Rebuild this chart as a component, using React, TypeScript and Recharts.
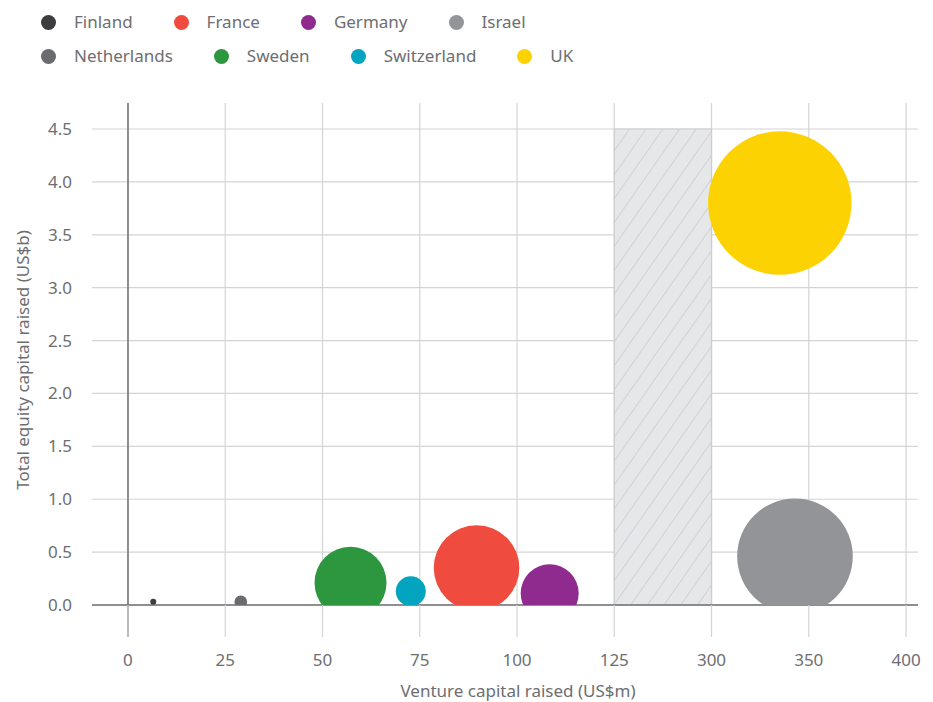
import React from 'react';
import {
  ScatterChart,
  Scatter,
  XAxis,
  YAxis,
  ZAxis,
  CartesianGrid,
  ReferenceArea,
  ReferenceLine,
  Cell,
  Label,
} from 'recharts';

const countries = ['Finland', 'France', 'Germany', 'Israel', 'Netherlands', 'Sweden', 'Switzerland', 'UK'];
// Venture capital raised, US$m
const ventureCapital = [6.5, 89.6, 108.4, 342.9, 29.0, 57.2, 72.7, 335.1];
// Total equity capital raised, US$b
const equityCapital = [0.03, 0.35, 0.11, 0.46, 0.03, 0.21, 0.13, 3.8];
// relative bubble size (area)
const bubbleSize = [9, 1832, 841, 3341, 40, 1296, 225, 5141];
const colors = ['#3d3d3f', '#f04b3f', '#8f2a8f', '#939497', '#6b6c70', '#2d973f', '#02a4c0', '#fdd203'];

const xTickLabels = [0, 25, 50, 75, 100, 125, 300, 350, 400];
const yTicks = [0, 0.5, 1, 1.5, 2, 2.5, 3, 3.5, 4, 4.5];
const breakStart = 125;
const breakEnd = 300;

const X_TITLE = 'Venture capital raised (US$m)';
const Y_TITLE = 'Total equity capital raised (US$b)';

const FONT = "'Noto Sans', sans-serif";
const TEXT = '#6d6e71';
const GRID = '#d4d4d4';
const AXIS = '#717174';

// broken axis: 0-125 in steps of 25, then 300-400 in steps of 50, one slot each
const toSlot = (v: number) => (v <= breakStart ? v / 25 : 6 + (v - breakEnd) / 50);
const xSlots = xTickLabels.map((_, i) => i);

const data = countries.map((name, i) => ({
  name,
  x: toSlot(ventureCapital[i]),
  y: equityCapital[i],
  z: bubbleSize[i],
}));

const YTitle = (props: any) => {
  const vb = props.viewBox || { y: 103, height: 502 };
  const cx = 22;
  const cy = vb.y + vb.height / 2 + 6;
  return (
    <text
      x={cx}
      y={cy}
      transform={`rotate(-90, ${cx}, ${cy})`}
      textAnchor="middle"
      dominantBaseline="central"
      fill={TEXT}
      fontSize={17}
      fontFamily={FONT}
    >
      {Y_TITLE}
    </text>
  );
};

const XTitle = () => (
  <text x={518} y={690} textAnchor="middle" dominantBaseline="central" fill={TEXT} fontSize={17} fontFamily={FONT}>
    {X_TITLE}
  </text>
);

const legendRows = [countries.slice(0, 4), countries.slice(4)];

const Legend = () => (
  <div style={{ position: 'absolute', left: 41, top: 0, fontFamily: FONT, fontSize: 17, color: TEXT }}>
    {legendRows.map((row, r) => (
      <div
        key={r}
        style={{ position: 'absolute', top: r === 0 ? 12 : 46, left: 0, display: 'flex', alignItems: 'center', height: 20, whiteSpace: 'nowrap' }}
      >
        {row.map((name) => (
          <div key={name} style={{ display: 'flex', alignItems: 'center', marginRight: 41 }}>
            <span
              style={{
                display: 'inline-block',
                width: 15,
                height: 15,
                borderRadius: '50%',
                background: colors[countries.indexOf(name)],
                marginRight: 18,
              }}
            />
            <span style={{ lineHeight: '20px' }}>{name}</span>
          </div>
        ))}
      </div>
    ))}
  </div>
);

export default function App() {
  return (
    <div style={{ position: 'relative', width: 933, height: 702, background: '#fff' }}>
      <style>{'body{margin:0}'}</style>
      <Legend />
      <ScatterChart
        width={933}
        height={702}
        margin={{ top: 103, right: 15, bottom: 0, left: 0 }}
        style={{ fontFamily: FONT }}
      >
        <defs>
          <pattern id="hatch" patternUnits="userSpaceOnUse" width={13.7} height={10} patternTransform="rotate(35)">
            <rect width={13.7} height={10} fill="#e6e7e9" />
            <line x1={0} y1={0} x2={0} y2={10} stroke="#c3c4c7" strokeWidth={1.2} />
          </pattern>
        </defs>
        <CartesianGrid stroke={GRID} strokeWidth={1.2} syncWithTicks />
        <XAxis
          type="number"
          dataKey="x"
          domain={[-0.37, 8.123]}
          ticks={xSlots}
          interval={0}
          allowDataOverflow
          tickFormatter={(v: number) => String(xTickLabels[v])}
          tick={{ fill: TEXT, fontSize: 17, fontFamily: FONT }}
          tickSize={32}
          tickMargin={17}
          tickLine={{ stroke: GRID, strokeWidth: 1.2 }}
          axisLine={{ stroke: AXIS, strokeWidth: 1.5 }}
          height={97}
        >
          <Label content={<XTitle />} />
        </XAxis>
        <YAxis
          type="number"
          dataKey="y"
          domain={[0, 4.746]}
          ticks={yTicks}
          interval={0}
          allowDataOverflow
          tickFormatter={(v: number) => v.toFixed(1)}
          tick={{ fill: TEXT, fontSize: 17, fontFamily: FONT }}
          tickLine={false}
          axisLine={false}
          tickSize={6}
          tickMargin={14}
          width={92}
        >
          <Label content={<YTitle />} />
        </YAxis>
        <ZAxis type="number" dataKey="z" domain={[0, 6000]} range={[0, 6000 * Math.PI]} />
        <ReferenceArea
          x1={toSlot(breakStart)}
          x2={toSlot(breakEnd)}
          y1={0}
          y2={4.5}
          fill="url(#hatch)"
          fillOpacity={1}
          stroke="#cdcdcf"
          strokeWidth={1.2}
        />
        <ReferenceLine
          segment={[
            { x: 0, y: -0.3025 },
            { x: 0, y: 4.746 },
          ]}
          ifOverflow="visible"
          stroke={AXIS}
          strokeWidth={1.5}
        />
        <Scatter data={data} isAnimationActive={false}>
          {data.map((d, i) => (
            <Cell key={d.name} fill={colors[i]} />
          ))}
        </Scatter>
      </ScatterChart>
    </div>
  );
}
